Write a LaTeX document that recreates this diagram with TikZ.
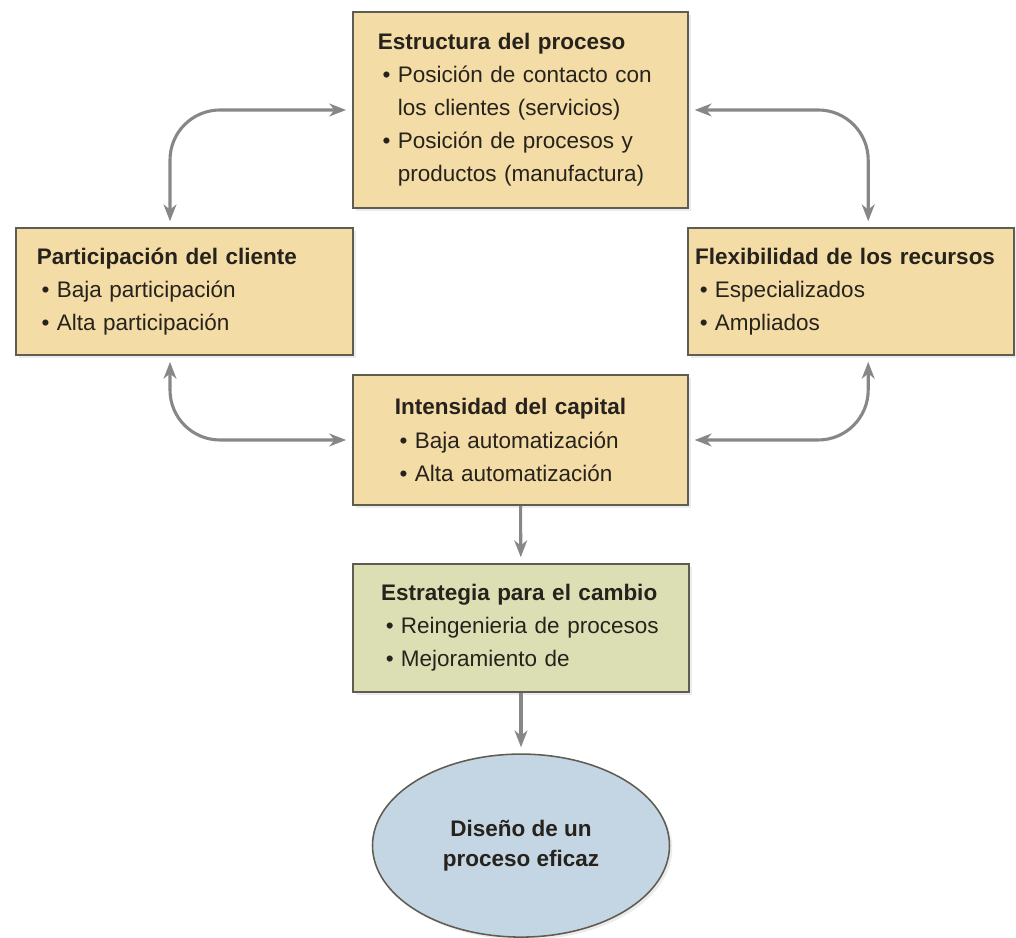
\documentclass[tikz,border=0pt]{standalone}
\usepackage{fontspec}
\setmainfont{Liberation Sans}
\usetikzlibrary{shapes.geometric, arrows.meta, shadows}
\setlength{\parindent}{0pt}
\hyphenpenalty=10000
\definecolor{tanfill}{RGB}{244,220,166}
\definecolor{sagefill}{RGB}{220,223,180}
\definecolor{skyfill}{RGB}{196,213,228}
\definecolor{edge}{RGB}{95,92,82}
\definecolor{ink}{RGB}{38,34,28}
\definecolor{link}{RGB}{135,135,135}
\newcommand{\itm}[1]{\par\hangindent=0.5cm\hangafter=1\hspace*{0.12cm}\makebox[0.38cm][l]{\textbullet}#1\par}
\tikzset{
  blk/.style={rectangle, draw=edge, line width=1.1pt, fill=tanfill,
              align=left, inner sep=0pt, text=ink,
              font=\fontsize{16}{23.5}\selectfont,
              drop shadow={shadow xshift=0.07cm, shadow yshift=-0.07cm, opacity=0.15}},
  chg/.style={blk, fill=sagefill},
  goal/.style={ellipse, draw=edge, line width=1.1pt, fill=skyfill,
               align=center, inner sep=0pt, text=ink,
               font=\fontsize{16}{21.5}\selectfont\bfseries,
               drop shadow={shadow xshift=0.07cm, shadow yshift=-0.07cm, opacity=0.15}},
  tip/.tip={Stealth[length=0.42cm, width=0.32cm, inset=0.13cm]},
  arr/.style={-tip, line width=2.2pt, draw=link, shorten >=0.15cm},
  biarr/.style={arr, tip-tip, shorten <=0.15cm, rounded corners=1.25cm},
}

\begin{document}
\begin{tikzpicture}
  \useasboundingbox (0, 0) rectangle (25.4, 23.45);

  \node[blk, minimum width=8.375cm, minimum height=4.9cm, text width=7.125cm] (est) at (13.01, 20.7)
    {\textbf{Estructura del proceso}
     \itm{Posición de contacto con\newline los clientes (servicios)}
     \itm{Posición de procesos y\newline productos (manufactura)}};
  \node[blk, minimum width=8.425cm, minimum height=3.175cm, text width=7.375cm] (part) at (4.61, 16.16)
    {\textbf{Participación del cliente}
     \itm{Baja participación}
     \itm{Alta participación}};
  \node[blk, minimum width=8.15cm, minimum height=3.175cm, text width=7.8cm] (flex) at (21.275, 16.16)
    {\textbf{Flexibilidad de los recursos}
     \itm{Especializados}
     \itm{Ampliados}};
  \node[blk, minimum width=8.375cm, minimum height=3.25cm, text width=6.275cm] (cap) at (13.01, 12.45)
    {\textbf{Intensidad del capital}
     \itm{Baja automatización}
     \itm{Alta automatización}};
  \node[chg, minimum width=8.4cm, minimum height=3.2cm, text width=7.0cm] (strat) at (13.025, 7.75)
    {\textbf{Estrategia para el cambio}
     \itm{Reingenieria de procesos}
     \itm{Mejoramiento de}};
  \node[goal, minimum width=7.425cm, minimum height=4.575cm] (diseno) at (13.025, 2.31)
    {Diseño de un\\proceso eficaz};

  % two-way links round the capital box
  \draw[biarr] ([xshift=-0.36cm]part.north) |- (est.west);
  \draw[biarr] (est.east) -| ([xshift=0.43cm]flex.north);
  \draw[biarr] ([xshift=-0.36cm]part.south) |- (cap.west);
  \draw[biarr] (cap.east) -| ([xshift=0.43cm]flex.south);

  \draw[arr] (cap) -- (strat);
  \draw[arr] (strat) -- (diseno);
\end{tikzpicture}
\end{document}
